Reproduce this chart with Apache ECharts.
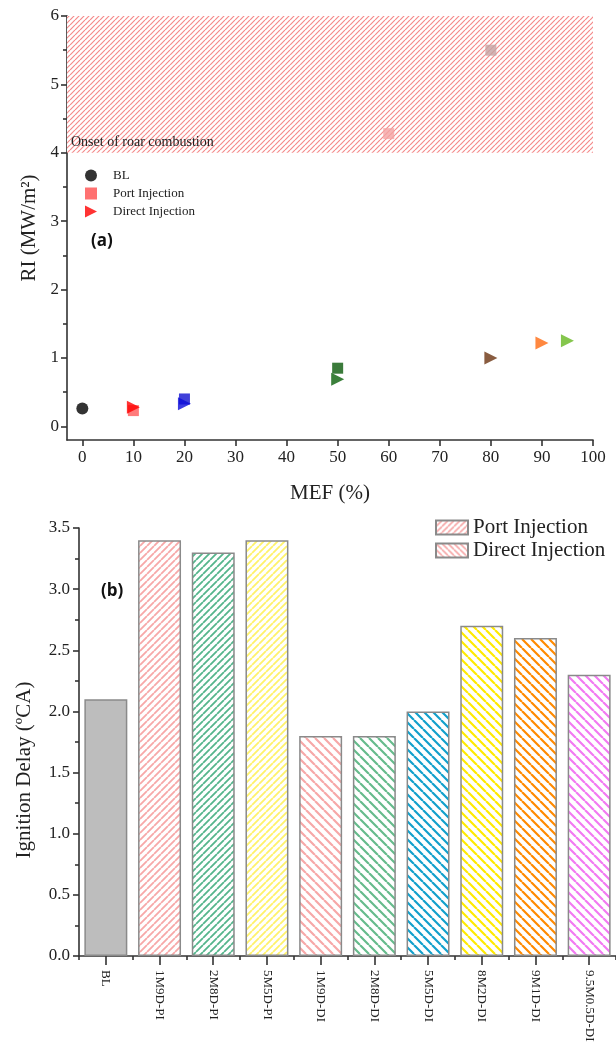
<!DOCTYPE html>
<html><head><meta charset="utf-8">
<script src="https://cdn.jsdelivr.net/npm/echarts@6/dist/echarts.min.js"></script>
<style>html,body{margin:0;padding:0;background:#fff}#c{width:616px;height:1045px}</style>
</head><body><div id="c"></div>
<script>
// ---- Panel (a) data ----
const mefBL = [0];
const riBL = [0.26];
const mefPI = [10, 20, 50, 60, 80];
const riPI = [0.23, 0.40, 0.85, 4.28, 5.5];
const colPI = ['#ff5a5a', '#1010d0', '#0a5a0a', '#f4a3a3', '#c4a2a2'];
const mefDI = [10, 20, 50, 80, 90, 95];
const riDI = [0.28, 0.33, 0.69, 1.0, 1.22, 1.25];
const colDI = ['#ff0000', '#0a0ad8', '#0a600a', '#6b3310', '#ff6a10', '#66b820'];
const roarBand = [4, 6];
const roarLabel = 'Onset of roar combustion';
const xRangeA = [-3, 100];
const yRangeA = [-0.2, 6];
const xTicksA = [0, 10, 20, 30, 40, 50, 60, 70, 80, 90, 100];
const yTicksA = [0, 1, 2, 3, 4, 5, 6];
const yMinorA = [0.5, 1.5, 2.5, 3.5, 4.5, 5.5];

// ---- Panel (b) data ----
const cats = ['BL', '1M9D-PI', '2M8D-PI', '5M5D-PI', '1M9D-DI', '2M8D-DI', '5M5D-DI', '8M2D-DI', '9M1D-DI', '9.5M0.5D-DI'];
const delay = [2.1, 3.4, 3.3, 3.4, 1.8, 1.8, 2.0, 2.7, 2.6, 2.3];
const barColors = ['#bdbdbd', '#f7a8a8', '#55b58c', '#fff26a', '#f7a8a8', '#66bb8c', '#12a0cc', '#ffea00', '#ff8a00', '#f27af2'];
const barHatch = ['none', '/', '/', '/', '\\', '\\', '\\', '\\', '\\', '\\'];

const SERIF = '"Liberation Serif","Times New Roman",serif';

function hatch(color, dir, s, lw, bg) {
  const c = document.createElement('canvas');
  c.width = s; c.height = s;
  const g = c.getContext('2d');
  if (bg) { g.fillStyle = bg; g.fillRect(0, 0, s, s); }
  g.strokeStyle = color; g.lineWidth = lw;
  g.beginPath();
  for (let k = -1; k <= 1; k++) {
    if (dir === '/') { g.moveTo(k * s, s); g.lineTo(k * s + s, 0); }
    else { g.moveTo(k * s, 0); g.lineTo(k * s + s, s); }
  }
  g.stroke();
  return { image: c, repeat: 'repeat' };
}

function barFill(i) {
  if (barHatch[i] === 'none') return barColors[i];
  const di = barHatch[i] === '\\';
  return hatch(barColors[i], barHatch[i], di ? 9 : 7, di ? 2.2 : 1.8, '#fff');
}

const roarPattern = hatch('#f58a8a', '/', 5, 1.2, '#ffffff');
const axisLineStyle = { color: '#333', width: 1.6 };

const chart = echarts.init(document.getElementById('c'), null, { renderer: 'canvas' });
chart.setOption({
  animation: false,
  backgroundColor: '#fff',
  textStyle: { fontFamily: SERIF },
  title: [
    { text: '(a)', left: 86, top: 228, textStyle: { fontFamily: '"Open Sans","Liberation Sans",sans-serif', fontWeight: 'bold', fontSize: 17, color: '#111' } },
    { text: '(b)', left: 96, top: 578, textStyle: { fontFamily: '"Open Sans","Liberation Sans",sans-serif', fontWeight: 'bold', fontSize: 17, color: '#111' } }
  ],
  grid: [
    { left: 67, top: 16, width: 526, height: 424 },
    { left: 79, top: 528, width: 540, height: 428 }
  ],
  legend: [
    {
      orient: 'vertical', left: 80, top: 164, itemWidth: 12, itemHeight: 12, itemGap: 5,
      textStyle: { fontFamily: SERIF, fontSize: 13, color: '#222', padding: [0, 0, 0, 11] },
      data: [
        { name: 'BL', icon: 'circle' },
        { name: 'Port Injection', icon: 'rect' },
        { name: 'Direct Injection', icon: 'path://M0,0L10,5L0,10Z' }
      ]
    },
    {
      orient: 'vertical', left: 430, top: 512, itemWidth: 32, itemHeight: 14, itemGap: 2,
      textStyle: { fontFamily: SERIF, fontSize: 21, color: '#222', lineHeight: 21 },
      data: [
        { name: 'Port Injection ', icon: 'rect' },
        { name: 'Direct Injection ', icon: 'rect' }
      ]
    }
  ],
  xAxis: [
    {
      gridIndex: 0, type: 'value', min: xRangeA[0], max: xRangeA[1],
      name: 'MEF (%)', nameLocation: 'middle', nameGap: 43,
      nameTextStyle: { fontFamily: SERIF, fontSize: 21, color: '#222' },
      axisLine: { show: true, onZero: false, lineStyle: axisLineStyle },
      axisTick: { show: true, length: 6, lineStyle: axisLineStyle, customValues: xTicksA },
      axisLabel: { fontFamily: SERIF, fontSize: 17, color: '#222', margin: 9, customValues: xTicksA },
      splitLine: { show: false }
    },
    {
      gridIndex: 1, type: 'category', data: cats,
      axisLine: { show: true, lineStyle: axisLineStyle },
      axisTick: { show: true, alignWithLabel: true, length: 9, lineStyle: axisLineStyle },
      axisLabel: { fontFamily: SERIF, fontSize: 13, color: '#222', rotate: -90, margin: 14, interval: 0 }
    },
    {
      gridIndex: 1, type: 'category', data: cats, position: 'bottom',
      axisLine: { show: false },
      axisTick: { show: true, length: 4, lineStyle: axisLineStyle, interval: 0 },
      axisLabel: { show: false }
    }
  ],
  yAxis: [
    {
      gridIndex: 0, type: 'value', min: yRangeA[0], max: yRangeA[1],
      name: 'RI (MW/m²)', nameLocation: 'middle', nameGap: 27,
      nameTextStyle: { fontFamily: SERIF, fontSize: 21, color: '#222' },
      axisLine: { show: true, onZero: false, lineStyle: axisLineStyle },
      axisTick: { show: true, length: 6, lineStyle: axisLineStyle, customValues: yTicksA },
      axisLabel: { fontFamily: SERIF, fontSize: 17, color: '#222', margin: 8, customValues: yTicksA },
      splitLine: { show: false }
    },
    {
      gridIndex: 0, type: 'value', min: yRangeA[0], max: yRangeA[1], position: 'left',
      axisLine: { show: false, onZero: false },
      axisTick: { show: true, length: 4, lineStyle: axisLineStyle, customValues: yMinorA },
      axisLabel: { show: false, customValues: yMinorA },
      splitLine: { show: false }
    },
    {
      gridIndex: 1, type: 'value', min: 0, max: 3.5, interval: 0.5,
      name: 'Ignition Delay (ºCA)', nameLocation: 'middle', nameGap: 44,
      nameTextStyle: { fontFamily: SERIF, fontSize: 21, color: '#222', padding: [0, 56, 0, 0] },
      axisLine: { show: true, lineStyle: axisLineStyle },
      axisTick: { show: true, length: 6, lineStyle: axisLineStyle },
      minorTick: { show: true, splitNumber: 2, length: 4, lineStyle: axisLineStyle },
      axisLabel: { fontFamily: SERIF, fontSize: 17, color: '#222', margin: 9, formatter: v => v.toFixed(1) },
      splitLine: { show: false }
    }
  ],
  series: [
    {
      type: 'custom', xAxisIndex: 0, yAxisIndex: 0, z: 1, silent: true,
      data: [[roarBand[0], roarBand[1]]],
      renderItem: function (params, api) {
        const pTop = api.coord([xRangeA[0], api.value(1)]);
        const pBot = api.coord([xRangeA[1], api.value(0)]);
        return {
          type: 'group',
          children: [
            {
              type: 'rect',
              shape: { x: pTop[0], y: pTop[1], width: pBot[0] - pTop[0], height: pBot[1] - pTop[1] },
              style: { fill: roarPattern }
            },
            {
              type: 'text',
              style: {
                text: roarLabel, x: pTop[0] + 4, y: pBot[1] - 3,
                verticalAlign: 'bottom', align: 'left',
                font: '14px "Liberation Serif","Times New Roman",serif', fill: '#222'
              }
            }
          ]
        };
      }
    },
    {
      name: 'BL', type: 'scatter', xAxisIndex: 0, yAxisIndex: 0,
      symbol: 'circle', symbolSize: 12, itemStyle: { color: '#000' },
      data: mefBL.map((x, i) => [x, riBL[i]]), z: 3
    },
    {
      name: 'Port Injection', type: 'scatter', xAxisIndex: 0, yAxisIndex: 0,
      symbol: 'rect', symbolSize: 11, itemStyle: { color: '#ff4d4d' },
      data: mefPI.map((x, i) => ({ value: [x, riPI[i]], itemStyle: { color: colPI[i] } })), z: 3
    },
    {
      name: 'Direct Injection', type: 'scatter', xAxisIndex: 0, yAxisIndex: 0,
      symbol: 'triangle', symbolRotate: -90, symbolSize: 13, itemStyle: { color: '#ff0000' },
      data: mefDI.map((x, i) => ({ value: [x, riDI[i]], itemStyle: { color: colDI[i] } })), z: 4
    },
    {
      name: 'Ignition Delay', type: 'bar', xAxisIndex: 1, yAxisIndex: 2,
      barCategoryGap: '20%', barGap: '-100%',
      data: delay.map((v, i) => ({
        value: v,
        itemStyle: { color: barFill(i), borderColor: '#8a8a8a', borderWidth: 1.5 }
      }))
    },
    {
      name: 'Port Injection ', type: 'bar', xAxisIndex: 1, yAxisIndex: 2, barGap: '-100%', barCategoryGap: '20%',
      itemStyle: { color: hatch('#f7a8a8', '/', 6, 1.6, '#fff'), borderColor: '#8a8a8a', borderWidth: 1.5 },
      data: []
    },
    {
      name: 'Direct Injection ', type: 'bar', xAxisIndex: 1, yAxisIndex: 2, barGap: '-100%', barCategoryGap: '20%',
      itemStyle: { color: hatch('#f7a8a8', '\\', 6, 1.6, '#fff'), borderColor: '#8a8a8a', borderWidth: 1.5 },
      data: []
    }
  ]
});
</script>
</body></html>
